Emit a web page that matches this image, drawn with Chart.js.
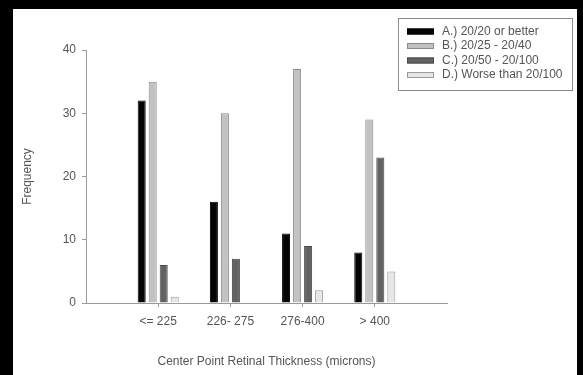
<!DOCTYPE html>
<html>
<head>
<meta charset="utf-8">
<script src="https://cdn.jsdelivr.net/npm/chart.js@4/dist/chart.umd.min.js"></script>
<style>
  html, body { margin: 0; padding: 0; background: #000; }
  #paper { position: absolute; left: 13px; top: 9px; width: 564px; height: 366px; background: #fff; }
  #wrap { position: absolute; left: 0; top: 0; width: 583px; height: 375px; }
</style>
</head>
<body>
<div id="paper"></div>
<div id="wrap"><canvas id="c" width="583" height="375"></canvas></div>
<script>
const categories = ['<= 225', '226- 275', '276-400', '> 400'];
const seriesNames = ['A.) 20/20 or better', 'B.) 20/25 - 20/40', 'C.) 20/50 - 20/100', 'D.) Worse than 20/100'];
const seriesA = [32, 16, 11, 8];
const seriesB = [35, 30, 37, 29];
const seriesC = [6, 7, 9, 23];
const seriesD = [1, 0, 2, 5];
const yTicks = [0, 10, 20, 30, 40];
const xTitle = 'Center Point Retinal Thickness (microns)';
const yTitle = 'Frequency';

const fills = ['#050505', '#c2c2c2', '#626262', '#e6e6e6'];
const borders = ['#000000', '#8a8a8a', '#4a4a4a', '#9a9a9a'];
const FONT = 'Liberation Sans, Arial, sans-serif';
const TXT = '#555555';
const AXIS = '#9a9a9a';

const labels = [''].concat(categories, ['']);
const pad = arr => [null].concat(arr, [null]);
const allSeries = [seriesA, seriesB, seriesC, seriesD];

const datasets = allSeries.map((s, i) => ({
  label: seriesNames[i],
  data: pad(s),
  backgroundColor: fills[i],
  borderColor: borders[i],
  borderWidth: 1,
  borderSkipped: 'bottom',
  categoryPercentage: 0.61,
  barPercentage: 0.73
}));

const legendPlugin = {
  id: 'boxLegend',
  afterDraw(chart) {
    const ctx = chart.ctx;
    ctx.save();
    ctx.strokeStyle = '#8c8c8c';
    ctx.lineWidth = 1;
    ctx.fillStyle = '#fff';
    ctx.fillRect(398.5, 18.5, 174, 72);
    ctx.strokeRect(398.5, 18.5, 174, 72);
    ctx.font = '12px ' + FONT;
    ctx.textBaseline = 'middle';
    chart.data.datasets.forEach((ds, i) => {
      const y = 31.5 + i * 14.5;
      ctx.fillStyle = ds.backgroundColor;
      ctx.fillRect(407, y - 3, 27, 6);
      ctx.strokeStyle = ds.borderColor;
      ctx.strokeRect(407.5, y - 2.5, 26, 5);
      ctx.fillStyle = TXT;
      ctx.fillText(ds.label, 442, y);
    });
    ctx.restore();
  }
};

new Chart(document.getElementById('c'), {
  type: 'bar',
  data: { labels: labels, datasets: datasets },
  plugins: [legendPlugin],
  options: {
    responsive: false,
    animation: false,
    events: [],
    layout: { padding: { left: 0, right: 136, top: 50, bottom: 0 } },
    plugins: { legend: { display: false }, tooltip: { enabled: false } },
    scales: {
      x: {
        type: 'category',
        offset: false,
        afterFit: s => { s.height = 72; },
        border: { display: true, color: AXIS, width: 1 },
        grid: {
          offset: false,
          drawOnChartArea: false,
          drawTicks: true,
          tickLength: 4,
          color: c => (c.index === 0 || c.index === labels.length - 1) ? 'rgba(0,0,0,0)' : AXIS
        },
        ticks: { color: TXT, font: { family: FONT, size: 12 }, padding: 7, maxRotation: 0, autoSkip: false },
        title: { display: true, text: xTitle, color: TXT, font: { family: FONT, size: 12 }, padding: { top: 0, bottom: 6 } }
      },
      y: {
        min: 0,
        max: 40,
        afterFit: s => { s.width = 86; },
        afterBuildTicks: s => { s.ticks = yTicks.map(v => ({ value: v })); },
        border: { display: true, color: AXIS, width: 1 },
        grid: { drawOnChartArea: false, drawTicks: true, tickLength: 4, color: AXIS },
        ticks: { color: TXT, font: { family: FONT, size: 12 }, padding: 6 },
        title: { display: true, text: yTitle, color: TXT, font: { family: FONT, size: 12 }, padding: { top: 20, bottom: 0 } }
      }
    }
  }
});
</script>
</body>
</html>
